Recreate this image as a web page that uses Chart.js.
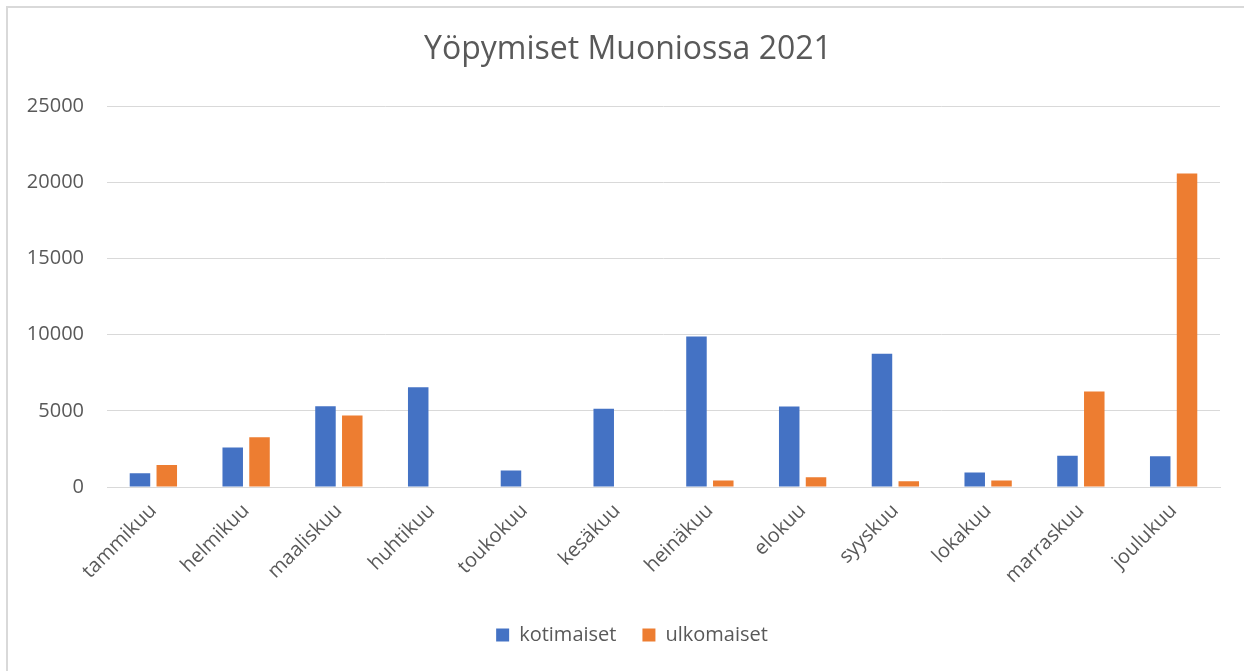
<!DOCTYPE html>
<html>
<head>
<meta charset="utf-8">
<script src="https://cdn.jsdelivr.net/npm/chart.js@4/dist/chart.umd.min.js"></script>
<style>
  html, body { margin: 0; padding: 0; background: #ffffff; overflow: hidden; }
  #wrap { position: relative; width: 1244px; height: 671px; }
  #frame { position: absolute; left: 6px; top: 6px; width: 1400px; height: 800px; border: 2px solid #d9d9d9; box-sizing: border-box; pointer-events: none; }
  canvas { position: absolute; left: 0; top: 0; }
</style>
</head>
<body>
<div id="wrap">
  <div id="frame"></div>
  <canvas id="c" width="1244" height="671"></canvas>
</div>
<script>
const chartTitle = "Yöpymiset Muoniossa 2021";
const months = ["tammikuu", "helmikuu", "maaliskuu", "huhtikuu", "toukokuu", "kesäkuu", "heinäkuu", "elokuu", "syyskuu", "lokakuu", "marraskuu", "joulukuu"];
const kotimaiset = [900, 2600, 5310, 6560, 1080, 5140, 9890, 5280, 8750, 945, 2060, 2015];
const ulkomaiset = [1450, 3260, 4700, null, null, null, 420, 640, 370, 420, 6280, 20600];
const seriesNames = ["kotimaiset", "ulkomaiset"];
const yTicks = [0, 5000, 10000, 15000, 20000, 25000];

const FONT = "'Open Sans', 'DejaVu Sans', sans-serif";
const TEXT = "#595959";
const GRID = "#d9d9d9";

// Centre title and legend on the outer chart frame rather than the padded canvas
const shiftBlocks = {
  id: "shiftBlocks",
  afterLayout(chart) {
    if (chart.titleBlock) { chart.titleBlock.left += 18; chart.titleBlock.right += 18; }
    if (chart.legend) { chart.legend.left += 22; chart.legend.right += 22; }
  }
};

new Chart(document.getElementById("c"), {
  type: "bar",
  data: {
    labels: months,
    datasets: [
      { label: seriesNames[0], data: kotimaiset, backgroundColor: "#4472C4", categoryPercentage: 0.578, barPercentage: 0.765 },
      { label: seriesNames[1], data: ulkomaiset, backgroundColor: "#ED7D31", categoryPercentage: 0.578, barPercentage: 0.765 }
    ]
  },
  plugins: [shiftBlocks],
  options: {
    responsive: false,
    animation: false,
    layout: { padding: { left: 0, right: 24, top: 0, bottom: 16 } },
    plugins: {
      title: {
        display: true,
        text: chartTitle,
        color: TEXT,
        font: { family: FONT, size: 32, weight: "normal", lineHeight: 1.2 },
        padding: { top: 31, bottom: 37 }
      },
      legend: {
        display: true,
        position: "bottom",
        labels: {
          color: TEXT,
          font: { family: FONT, size: 20 },
          boxWidth: 13,
          boxHeight: 13,
          padding: 26
        }
      },
      tooltip: { enabled: false }
    },
    scales: {
      x: {
        grid: { display: false },
        border: { display: true, color: GRID, width: 1 },
        ticks: {
          color: TEXT,
          font: { family: FONT, size: 20 },
          minRotation: 45,
          maxRotation: 45,
          padding: 4
        },
        afterFit: (s) => { s.height = 112; }
      },
      y: {
        min: yTicks[0],
        max: yTicks[yTicks.length - 1],
        afterBuildTicks: (s) => { s.ticks = yTicks.map(v => ({ value: v })); },
        grid: { color: GRID, lineWidth: 1, drawTicks: false },
        border: { display: false },
        ticks: {
          color: TEXT,
          font: { family: FONT, size: 20 },
          padding: 23,
          callback: (v) => String(v)
        },
        afterFit: (s) => { s.width = 107; }
      }
    }
  }
});
</script>
</body>
</html>
